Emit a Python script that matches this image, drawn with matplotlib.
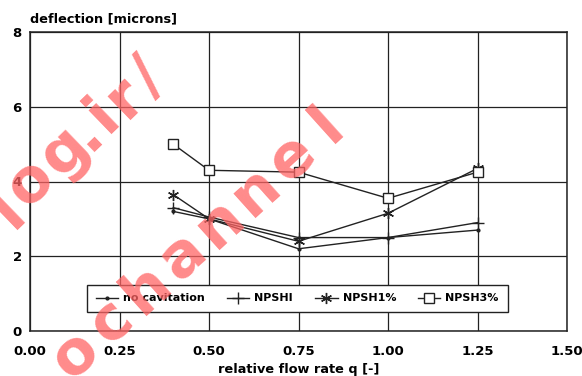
import matplotlib.pyplot as plt
import numpy as np

# data
q = [0.4, 0.5, 0.75, 1.0, 1.25]
no_cav = [3.2, 3.0, 2.2, 2.5, 2.7]
npshi = [3.3, 3.05, 2.5, 2.5, 2.9]
npsh1 = [3.65, 3.0, 2.4, 3.15, 4.35]
npsh3 = [5.0, 4.3, 4.25, 3.55, 4.25]

xticks = [0.0, 0.25, 0.5, 0.75, 1.0, 1.25, 1.5]
yticks = [0, 2, 4, 6, 8]

plt.rcParams['font.family'] = ['DejaVu Sans']
plt.rcParams['font.weight'] = 'bold'

fig = plt.figure(figsize=(5.82, 3.76), dpi=100)
ax = fig.add_axes([30/582, 1-331/376, 537/582, 299/376])

ax.plot(q, no_cav, color='#222', lw=1, marker='.', ms=4, label='no cavitation')
ax.plot(q, npshi, color='#222', lw=1, marker='+', ms=9, mew=1, label='NPSHI')
ax.plot(q, npsh1, color='#222', lw=1, marker=(6, 2, 0), ms=8, mew=1, label='NPSH1%')
ax.plot(q, npsh3, color='#222', lw=1, marker='s', ms=7, mfc='white', mew=1, label='NPSH3%')

ax.set_xlim(0, 1.5)
ax.set_ylim(0, 8)
ax.set_xticks(xticks)
ax.set_xticklabels(['%.2f' % v for v in xticks], fontsize=9.5, fontweight='bold')
ax.set_yticks(yticks)
ax.set_yticklabels([str(v) for v in yticks], fontsize=9.5, fontweight='bold')
ax.tick_params(axis='x', length=0, pad=10)
ax.tick_params(axis='y', length=0, pad=6)
ax.grid(True, color='#222', lw=0.9)
for s in ax.spines.values():
    s.set_linewidth(1.1)
    s.set_color('#222')

ax.set_xlabel('relative flow rate q [-]', fontsize=9.3, fontweight='bold', labelpad=4)
fig.text(30/582, 1-19/376, 'deflection [microns]', fontsize=9.3, fontweight='bold', va='center', ha='left')

leg = ax.legend(loc='center', bbox_to_anchor=(0.498, 0.109), ncol=4, fontsize=8,
                frameon=True, fancybox=False, edgecolor='#222', handlelength=2.0,
                handletextpad=0.45, columnspacing=2.0, borderpad=0.8, framealpha=1)
leg.get_frame().set_linewidth(1.0)
for t in leg.get_texts():
    t.set_fontweight('bold')

# watermark, letter by letter on a common baseline (wide letter spacing in the original)
fs = 44
em = fs * 100 / 72
wm = dict(fontsize=fs, fontweight='bold', family='DejaVu Sans', color='#ff6464',
          alpha=0.75, ha='center', va='baseline', rotation_mode='anchor', zorder=10)


def put_word(chars, centers, angle):
    a = np.deg2rad(angle)
    off = 0.27 * em
    for ch, (px, py) in zip(chars, centers):
        bx = px + off * np.sin(a)
        by = py + off * np.cos(a)
        fig.text(bx/582, 1-by/376, ch, rotation=angle, **wm)


put_word('log.ir/', [(9, 211), (30, 183), (64, 152), (86, 132), (103, 115), (125, 98), (148, 77)], 44)
word2 = 'ochannel'
x0, y0, x1, y1 = 75, 355, 328, 125
n = len(word2) - 1
put_word(word2, [(x0 + (x1 - x0) * i / n, y0 + (y1 - y0) * i / n) for i in range(n + 1)], 42)

fig.savefig('out.png', dpi=100)
